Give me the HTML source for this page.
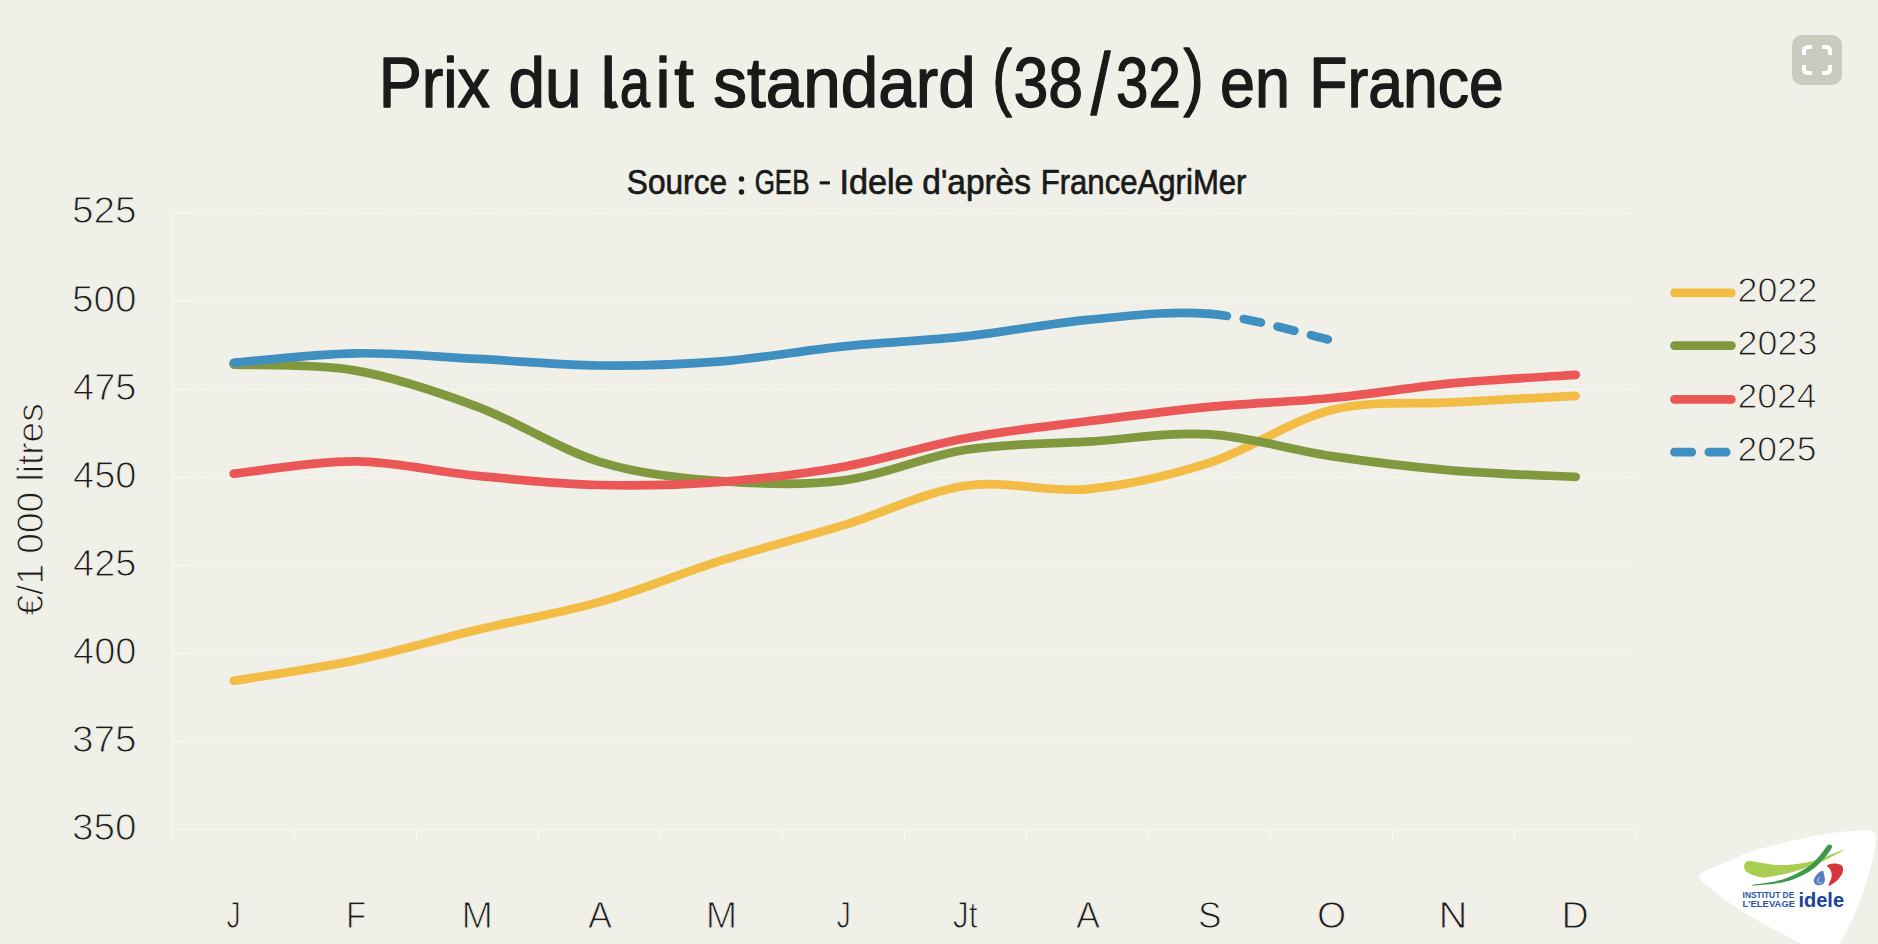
<!DOCTYPE html>
<html lang="fr"><head><meta charset="utf-8"><title>Prix du lait standard (38/32) en France</title>
<style>
html,body{margin:0;padding:0;background:#F0F0E8;}
body{width:1878px;height:944px;overflow:hidden;font-family:"Liberation Sans",sans-serif;}
svg{display:block;position:absolute;left:0;top:0;}
text{font-family:"Liberation Sans",sans-serif;}
.ax{fill:#1c1c1c;stroke:#F0F0E8;stroke-width:1.0;}
.ttl{fill:#1a1a1a;stroke:#1a1a1a;stroke-linejoin:round;}
.sub{fill:#1a1a1a;stroke:#1a1a1a;stroke-linejoin:round;}
.ln{fill:none;stroke-width:8.7;stroke-linecap:round;stroke-linejoin:round;}
</style></head><body>
<svg width="1878" height="944" viewBox="0 0 1878 944">
<rect x="0" y="0" width="1878" height="944" fill="#F0F0E8"/>

<g stroke="#FFFFFF" stroke-width="1.1" fill="none" opacity="0.72">
<path d="M172.5,741.8 H188" />
<path d="M188,741.8 H1637" stroke-dasharray="2.7 1.6"/>
<path d="M172.5,653.7 H188" />
<path d="M188,653.7 H1637" stroke-dasharray="2.7 1.6"/>
<path d="M172.5,565.7 H188" />
<path d="M188,565.7 H1637" stroke-dasharray="2.7 1.6"/>
<path d="M172.5,477.6 H188" />
<path d="M188,477.6 H1637" stroke-dasharray="2.7 1.6"/>
<path d="M172.5,389.6 H188" />
<path d="M188,389.6 H1637" stroke-dasharray="2.7 1.6"/>
<path d="M172.5,301.5 H188" />
<path d="M188,301.5 H1637" stroke-dasharray="2.7 1.6"/>
<path d="M172.5,213.5 H188" />
<path d="M188,213.5 H1637" stroke-dasharray="2.7 1.6"/>
<path d="M172.5,213.5 V841.7"/>
<path d="M172.5,829.8 H1637"/>
<path d="M294.5,829.8 V841.7"/>
<path d="M416.5,829.8 V841.7"/>
<path d="M538.5,829.8 V841.7"/>
<path d="M660.5,829.8 V841.7"/>
<path d="M782.5,829.8 V841.7"/>
<path d="M904.5,829.8 V841.7"/>
<path d="M1026.5,829.8 V841.7"/>
<path d="M1148.5,829.8 V841.7"/>
<path d="M1270.5,829.8 V841.7"/>
<path d="M1392.5,829.8 V841.7"/>
<path d="M1514.5,829.8 V841.7"/>
<path d="M1636.5,829.8 V841.7"/>
</g>
<g class="ttl">
<text class="" x="378.65" y="107.10" font-size="69.8" textLength="111.27" lengthAdjust="spacingAndGlyphs" stroke-width="1.4" >Prix</text>
<text class="" x="508.48" y="107.10" font-size="69.8" textLength="73.09" lengthAdjust="spacingAndGlyphs" stroke-width="1.4" >du</text>
<text class="" x="600.67" y="107.10" font-size="69.8" textLength="15.00" lengthAdjust="spacingAndGlyphs" stroke-width="1.4" >l</text>
<text class="" x="619.86" y="107.10" font-size="69.8" textLength="30.31" lengthAdjust="spacingAndGlyphs" stroke-width="1.4" >a</text>
<text class="" x="655.57" y="107.10" font-size="69.8" textLength="15.00" lengthAdjust="spacingAndGlyphs" stroke-width="1.4" >i</text>
<text class="" x="674.19" y="107.10" font-size="69.8" textLength="19.51" lengthAdjust="spacingAndGlyphs" stroke-width="1.4" >t</text>
<text class="" x="713.37" y="107.10" font-size="69.8" textLength="262.40" lengthAdjust="spacingAndGlyphs" stroke-width="1.4" >standard</text>
<text class="" x="992.13" y="102.30" font-size="74.5" textLength="19.72" lengthAdjust="spacingAndGlyphs" stroke-width="1.4" >(</text>
<text class="" x="1013.41" y="107.10" font-size="69.8" textLength="69.66" lengthAdjust="spacingAndGlyphs" stroke-width="1.4" >38</text>
<text class="" x="1090.80" y="113.90" font-size="87" textLength="19.54" lengthAdjust="spacingAndGlyphs" stroke-width="1.4" >/</text>
<text class="" x="1116.10" y="107.10" font-size="69.8" textLength="64.74" lengthAdjust="spacingAndGlyphs" stroke-width="1.4" >32</text>
<text class="" x="1183.58" y="102.30" font-size="74.5" textLength="20.24" lengthAdjust="spacingAndGlyphs" stroke-width="1.4" >)</text>
<text class="" x="1220.00" y="107.10" font-size="69.8" textLength="69.99" lengthAdjust="spacingAndGlyphs" stroke-width="1.4" >en</text>
<text class="" x="1309.33" y="107.10" font-size="69.8" textLength="194.36" lengthAdjust="spacingAndGlyphs" stroke-width="1.4" >France</text>
</g>
<path d="M608.4,92 V98.5 C608.4,105.2 611.6,106.4 617.0,104.0" stroke="#1a1a1a" stroke-width="7.2" fill="none"/>
<g class="sub">
<text class="" x="626.84" y="193.60" font-size="34.9" textLength="100.23" lengthAdjust="spacingAndGlyphs" stroke-width="0.7" >Source</text>
<text class="" x="754.66" y="193.60" font-size="34.9" textLength="54.84" lengthAdjust="spacingAndGlyphs" stroke-width="0.7" >GEB</text>
<text class="" x="839.41" y="193.60" font-size="34.9" textLength="74.18" lengthAdjust="spacingAndGlyphs" stroke-width="0.7" >Idele</text>
<text class="" x="922.33" y="193.60" font-size="34.9" textLength="108.60" lengthAdjust="spacingAndGlyphs" stroke-width="0.7" >d'après</text>
<text class="" x="1040.67" y="193.60" font-size="34.9" textLength="205.83" lengthAdjust="spacingAndGlyphs" stroke-width="0.7" >FranceAgriMer</text>
</g>
<g fill="#1a1a1a"><circle cx="741.5" cy="179" r="2.75"/><circle cx="741.5" cy="191.9" r="2.75"/><rect x="819.7" y="181.3" width="10.2" height="3.1"/></g>
<g class="ax">
<text class="" x="71.99" y="839.80" font-size="36.7" textLength="64.49" lengthAdjust="spacingAndGlyphs" >350</text>
<text class="" x="71.99" y="751.75" font-size="36.7" textLength="64.49" lengthAdjust="spacingAndGlyphs" >375</text>
<text class="" x="73.06" y="663.71" font-size="36.7" textLength="63.40" lengthAdjust="spacingAndGlyphs" >400</text>
<text class="" x="73.06" y="575.66" font-size="36.7" textLength="63.40" lengthAdjust="spacingAndGlyphs" >425</text>
<text class="" x="73.06" y="487.62" font-size="36.7" textLength="63.40" lengthAdjust="spacingAndGlyphs" >450</text>
<text class="" x="73.06" y="399.57" font-size="36.7" textLength="63.40" lengthAdjust="spacingAndGlyphs" >475</text>
<text class="" x="71.99" y="311.53" font-size="36.7" textLength="64.49" lengthAdjust="spacingAndGlyphs" >500</text>
<text class="" x="71.99" y="223.49" font-size="36.7" textLength="64.49" lengthAdjust="spacingAndGlyphs" >525</text>
</g>
<g class="ax">
<text class="" x="226.43" y="928.30" font-size="36.8" textLength="14.23" lengthAdjust="spacingAndGlyphs" >J</text>
<text class="" x="345.92" y="928.30" font-size="36.8" textLength="20.11" lengthAdjust="spacingAndGlyphs" >F</text>
<text class="" x="461.53" y="928.30" font-size="36.8" textLength="31.39" lengthAdjust="spacingAndGlyphs" >M</text>
<text class="" x="588.00" y="928.30" font-size="36.8" textLength="24.04" lengthAdjust="spacingAndGlyphs" >A</text>
<text class="" x="705.73" y="928.30" font-size="36.8" textLength="31.39" lengthAdjust="spacingAndGlyphs" >M</text>
<text class="" x="836.42" y="928.30" font-size="36.8" textLength="14.36" lengthAdjust="spacingAndGlyphs" >J</text>
<text class="" x="952.63" y="928.30" font-size="36.8" textLength="24.94" lengthAdjust="spacingAndGlyphs" >Jt</text>
<text class="" x="1076.00" y="928.30" font-size="36.8" textLength="24.04" lengthAdjust="spacingAndGlyphs" >A</text>
<text class="" x="1197.89" y="928.30" font-size="36.8" textLength="23.49" lengthAdjust="spacingAndGlyphs" >S</text>
<text class="" x="1316.96" y="928.30" font-size="36.8" textLength="29.20" lengthAdjust="spacingAndGlyphs" >O</text>
<text class="" x="1438.53" y="928.30" font-size="36.8" textLength="28.98" lengthAdjust="spacingAndGlyphs" >N</text>
<text class="" x="1561.43" y="928.30" font-size="36.8" textLength="27.18" lengthAdjust="spacingAndGlyphs" >D</text>
</g>
<text class="ax" font-size="36.7" transform="translate(43.20,614.0) rotate(-90)" x="-1.51" textLength="212.28" lengthAdjust="spacingAndGlyphs">€/1 000 litres</text>
<path class="ln" stroke="#F2BC45" d="M233.7,680.8 C254.0,677.4 315.0,668.7 355.7,660.2 C396.4,651.7 437.0,639.5 477.7,629.8 C518.4,620.0 559.0,613.5 599.7,601.9 C640.4,590.4 681.0,573.2 721.7,560.4 C762.4,547.6 803.0,537.6 843.7,525.2 C884.4,512.7 925.0,491.7 965.7,485.7 C1006.4,479.7 1047.0,492.9 1087.7,489.1 C1128.4,485.2 1169.0,475.8 1209.7,462.7 C1250.4,449.5 1291.0,420.1 1331.7,410.0 C1372.4,399.9 1413.0,404.6 1453.7,402.3 C1494.4,399.9 1555.4,397.0 1575.7,395.9"/>
<path class="ln" stroke="#80993F" d="M233.7,364.6 C254.0,365.6 315.0,363.5 355.7,370.6 C396.4,377.6 437.0,391.6 477.7,406.8 C518.4,422.0 559.0,449.4 599.7,461.8 C640.4,474.2 681.0,478.0 721.7,481.1 C762.4,484.3 803.0,485.7 843.7,480.4 C884.4,475.2 925.0,456.3 965.7,449.8 C1006.4,443.3 1047.0,444.3 1087.7,441.7 C1128.4,439.1 1169.0,431.9 1209.7,434.3 C1250.4,436.7 1291.0,450.1 1331.7,456.1 C1372.4,462.2 1413.0,467.1 1453.7,470.6 C1494.4,474.0 1555.4,475.9 1575.7,476.9"/>
<path class="ln" stroke="#EB5757" d="M233.7,473.7 C254.0,471.7 315.0,461.1 355.7,461.4 C396.4,461.8 437.0,471.9 477.7,475.9 C518.4,479.8 559.0,484.0 599.7,485.0 C640.4,486.0 681.0,484.9 721.7,481.8 C762.4,478.8 803.0,474.0 843.7,466.7 C884.4,459.4 925.0,445.7 965.7,438.2 C1006.4,430.6 1047.0,426.5 1087.7,421.3 C1128.4,416.0 1169.0,410.7 1209.7,406.8 C1250.4,403.0 1291.0,402.0 1331.7,398.0 C1372.4,394.1 1413.0,387.1 1453.7,383.2 C1494.4,379.4 1555.4,376.2 1575.7,374.8"/>
<path class="ln" stroke="#408FC1" d="M233.7,362.8 C254.0,361.2 315.0,353.9 355.7,353.3 C396.4,352.7 437.0,356.9 477.7,358.9 C518.4,361.0 559.0,365.0 599.7,365.5 C640.4,365.9 681.0,364.6 721.7,361.4 C762.4,358.2 803.0,350.4 843.7,346.3 C884.4,342.1 925.0,340.8 965.7,336.4 C1006.4,332.0 1047.0,323.6 1087.7,319.8 C1128.4,316.1 1169.0,310.5 1209.7,313.9"/>
<path class="ln" stroke="#408FC1" stroke-dasharray="17.4 17.1" d="M1209.7,313.9 C1250.4,317.3 1311.4,335.9 1331.7,340.3"/>
<path class="ln" stroke="#F2BC45" stroke-width="8.5" d="M1674.5,292.9 H1731.4"/>
<text class="ax" x="1737.48" y="301.70" font-size="35.5" textLength="79.93" lengthAdjust="spacingAndGlyphs" >2022</text>
<path class="ln" stroke="#80993F" stroke-width="8.5" d="M1674.5,345.7 H1731.4"/>
<text class="ax" x="1737.48" y="354.50" font-size="35.5" textLength="79.93" lengthAdjust="spacingAndGlyphs" >2023</text>
<path class="ln" stroke="#EB5757" stroke-width="8.5" d="M1674.5,399.4 H1731.4"/>
<text class="ax" x="1737.50" y="408.20" font-size="35.5" textLength="78.88" lengthAdjust="spacingAndGlyphs" >2024</text>
<path class="ln" stroke="#408FC1" stroke-width="8.5" stroke-dasharray="17.4 17" d="M1674.4,452.2 H1726.3"/>
<text class="ax" x="1737.50" y="461.00" font-size="35.5" textLength="78.88" lengthAdjust="spacingAndGlyphs" >2025</text>
<rect x="1792" y="35" width="50" height="50" rx="10" ry="10" fill="#C9CBBE"/>
<g fill="none" stroke="#FFFFFF" stroke-width="4" stroke-linecap="butt" stroke-linejoin="round">
<path d="M1804,55 V51 Q1804,47 1808,47 H1812"/>
<path d="M1822,47 H1826 Q1830,47 1830,51 V55"/>
<path d="M1804,65 V69 Q1804,73 1808,73 H1812"/>
<path d="M1822,73 H1826 Q1830,73 1830,69 V65"/>
</g>
<path d="M1699.3,877.4 C1698.9,875.1 1700.5,873.6 1704.0,871.5 C1707.5,869.4 1713.1,867.8 1720.6,864.6 C1728.1,861.5 1739.5,856.0 1749.0,852.6 C1758.5,849.2 1767.9,846.6 1777.4,844.1 C1786.9,841.6 1796.3,839.6 1805.8,837.7 C1815.2,835.8 1824.6,833.9 1834.1,832.7 C1843.5,831.5 1856.1,830.8 1862.5,830.6 C1868.9,830.5 1870.2,830.5 1872.5,831.8 C1874.8,833.1 1875.8,834.9 1876.0,838.4 C1876.2,841.9 1875.4,845.5 1873.9,852.6 C1872.4,859.7 1869.9,871.1 1866.8,881.0 C1863.7,890.9 1859.9,901.7 1855.4,912.2 C1850.9,922.7 1844.0,936.0 1839.8,944.0 C1835.6,952.0 1836.4,960.0 1830.0,960.0 C1823.6,960.0 1812.6,950.1 1801.5,944.0 C1790.4,937.9 1774.3,929.9 1763.2,923.6 C1752.1,917.4 1744.3,912.9 1734.8,906.5 C1725.3,900.1 1712.3,890.1 1706.4,885.2 C1700.5,880.4 1699.7,879.7 1699.3,877.4 Z" fill="#FFFFFF"/>
<path d="M1744.1,866.6 C1744.1,865.2 1744.6,863.5 1745.5,862.5 C1746.4,861.5 1747.4,860.7 1749.7,860.7 C1752.0,860.7 1755.2,861.8 1759.5,862.5 C1763.8,863.2 1770.4,864.6 1775.8,864.9 C1781.2,865.2 1786.7,865.0 1792.1,864.5 C1797.5,864.0 1803.0,863.3 1808.4,862.1 C1813.8,860.9 1818.8,859.3 1824.7,857.2 C1830.6,855.1 1843.2,849.4 1843.9,849.6 C1844.6,849.8 1833.3,855.9 1828.8,858.2 C1824.2,860.5 1821.3,861.7 1816.6,863.6 C1811.8,865.5 1805.8,868.0 1800.3,869.8 C1794.8,871.6 1789.4,873.1 1783.9,874.3 C1778.5,875.5 1771.3,876.5 1767.6,877.0 C1763.9,877.5 1764.6,878.0 1761.9,877.6 C1759.2,877.2 1754.0,875.6 1751.3,874.5 C1748.6,873.4 1746.7,872.1 1745.5,870.8 C1744.3,869.5 1744.1,868.0 1744.1,866.6 Z" fill="#AACE52"/>
<path d="M1754.2,884.6 C1757.8,883.9 1769.5,882.7 1775.8,881.2 C1782.1,879.7 1786.7,878.1 1792.1,875.7 C1797.5,873.3 1803.8,870.0 1808.4,866.6 C1813.0,863.2 1816.7,858.9 1819.8,855.5 C1822.9,852.1 1825.3,847.8 1827.0,846.0 C1828.7,844.2 1829.0,844.6 1829.8,844.8 C1830.6,845.0 1833.0,844.9 1831.9,847.4 C1830.8,849.9 1826.6,855.7 1823.1,859.6 C1819.6,863.5 1815.8,867.3 1810.9,870.6 C1806.0,873.9 1799.6,877.0 1793.7,879.2 C1787.8,881.4 1782.4,882.5 1775.8,883.6 C1769.2,884.7 1757.8,885.4 1754.2,885.6 C1750.6,885.8 1750.6,885.3 1754.2,884.6 Z" fill="#3E9A4B"/>
<path d="M1827.2,865.3 C1828.0,864.2 1832.8,863.3 1835.3,863.4 C1837.8,863.5 1840.7,864.2 1841.9,865.7 C1843.1,867.2 1843.4,869.9 1842.7,872.3 C1842.0,874.7 1839.6,877.8 1837.5,880.0 C1835.4,882.2 1831.5,884.6 1830.0,885.4 C1828.5,886.1 1828.5,886.0 1828.8,884.5 C1829.1,883.0 1831.4,878.8 1831.7,876.3 C1832.0,873.8 1831.2,871.6 1830.4,869.8 C1829.7,868.0 1826.4,866.4 1827.2,865.3 Z" fill="#D5353B"/>
<path d="M1822.7,870.6 C1821.5,870.6 1818.5,872.9 1817.0,874.5 C1815.5,876.1 1814.0,878.4 1813.7,880.0 C1813.5,881.6 1814.5,883.4 1815.5,884.3 C1816.5,885.2 1818.2,885.4 1819.5,885.3 C1820.8,885.2 1822.7,884.5 1823.6,883.6 C1824.5,882.7 1824.8,881.1 1824.9,879.6 C1825.0,878.1 1824.4,876.0 1824.0,874.5 C1823.6,873.0 1823.9,870.6 1822.7,870.6 Z" fill="#5C7BC0"/>
<path d="M1819.6,877.2 C1817.6,878.6 1817.0,881.4 1818.6,882.8 C1819.8,883.6 1821.2,883.2 1821.8,882.2" fill="none" stroke="#DDE4F4" stroke-width="0.9"/>
<g font-weight="bold">
<text class="" x="1742.59" y="897.60" font-size="8.3" textLength="51.68" lengthAdjust="spacingAndGlyphs" fill="#2A56A0">INSTITUT DE</text>
<text class="" x="1742.46" y="906.50" font-size="8.3" textLength="52.63" lengthAdjust="spacingAndGlyphs" fill="#2A56A0">L'ELEVAGE</text>
<text class="" x="1798.43" y="906.50" font-size="20.7" textLength="45.62" lengthAdjust="spacingAndGlyphs" fill="#1A4496">idele</text>
</g>
</svg></body></html>
